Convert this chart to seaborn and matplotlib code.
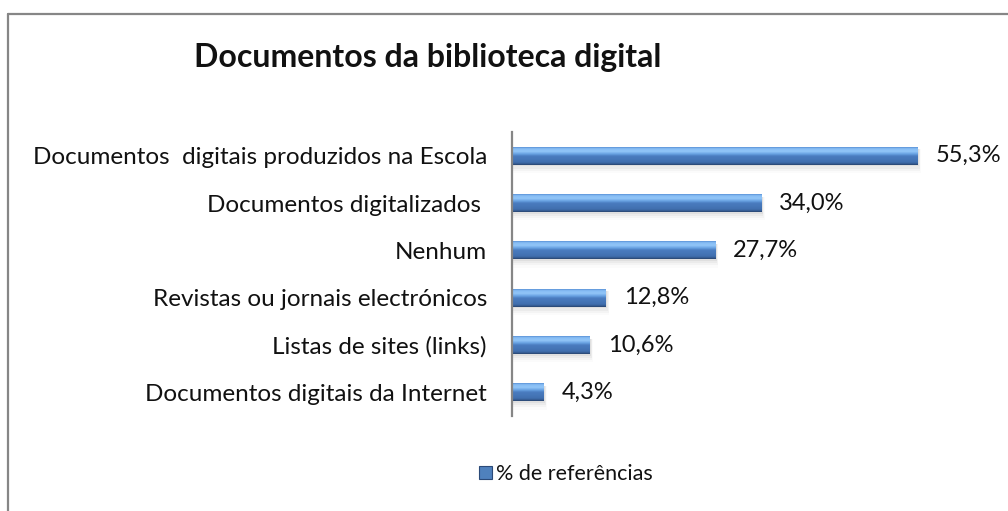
import numpy as np
import matplotlib
matplotlib.use("Agg")
import matplotlib.pyplot as plt
import seaborn as sns
import pandas as pd
from matplotlib.patches import Rectangle
from matplotlib.lines import Line2D
from matplotlib.colors import LinearSegmentedColormap

categories = [
    "Documentos  digitais produzidos na Escola",
    "Documentos digitalizados ",
    "Nenhum",
    "Revistas ou jornais electrónicos",
    "Listas de sites (links)",
    "Documentos digitais da Internet",
]
values = [55.3, 34.0, 27.7, 12.8, 10.6, 4.3]
value_labels = ["55,3%", "34,0%", "27,7%", "12,8%", "10,6%", "4,3%"]
title = "Documentos da biblioteca digital"
series_name = "% de referências"

sns.set_theme(style="white")
plt.rcParams['font.family'] = ['Lato', 'DejaVu Sans']

W, H = 1008, 511
fig = plt.figure(figsize=(W / 100, H / 100), dpi=100)
ax = fig.add_axes([512 / W, 1 - 416 / H, 440 / W, 284 / H])

df = pd.DataFrame({"cat": categories, "val": values})
sns.barplot(data=df, x="val", y="cat", color="#4f81bd", width=0.38,
            saturation=1, ax=ax, zorder=3)

ax.set_xlim(0, 60)
ax.set_ylim(len(categories) - 0.5, -0.5)

cmap = LinearSegmentedColormap.from_list("bevel", [
    (0.0, "#5a92d6"), (0.08, "#86bcf4"), (0.24, "#92c6f8"),
    (0.38, "#68a2e2"), (0.5, "#4a7cc0"), (0.84, "#4170b0"),
    (0.93, "#375e96"), (1.0, "#27446e")])
grad = np.linspace(0, 1, 64).reshape(-1, 1)

for p in list(ax.patches):
    x, y, w, h = p.get_x(), p.get_y(), p.get_width(), p.get_height()
    p.set_edgecolor("none")
    # soft shadow
    for k, a in enumerate([0.10, 0.07, 0.05, 0.03]):
        ax.add_patch(Rectangle((x + 0.1, y + h * 0.15), w + 0.1 + 0.08 * k,
                               h * (0.95 + 0.12 * k), facecolor="#808080",
                               edgecolor="none", alpha=a, zorder=2))
    im = ax.imshow(grad, extent=[x, x + w, y + h, y], cmap=cmap,
                   aspect="auto", zorder=4, interpolation="bilinear")
    im.set_clip_path(p)

ax.set_xlim(0, 60)
ax.set_ylim(len(categories) - 0.5, -0.5)
if ax.get_legend() is not None:
    ax.get_legend().remove()

ax.bar_label(ax.containers[0], labels=value_labels, padding=13,
             fontsize=17, color="#111111")

ax.set_xlabel("")
ax.set_ylabel("")
ax.set_xticks([])
ax.tick_params(axis="y", length=0, pad=18, labelsize=17.5, labelcolor="#111111")
for s in ["top", "right", "bottom"]:
    ax.spines[s].set_visible(False)
ax.spines["left"].set_color("#868686")
ax.spines["left"].set_linewidth(1.6)
ax.spines["left"].set_zorder(5)
ax.set_facecolor("white")

fig.text(428 / W, 1 - 57 / H, title, ha="center", va="center",
         fontsize=23, fontweight="bold", color="#111111")

handle = Rectangle((0, 0), 1, 1, facecolor="#4f81bd", edgecolor="#2b4a78", lw=0.8)
leg = fig.legend([handle], [series_name], loc="center",
                 bbox_to_anchor=(566 / W, 1 - 474 / H), frameon=False,
                 fontsize=15.5, handlelength=0.6, handleheight=0.6,
                 handletextpad=0.2, labelcolor="#111111")

# chart frame (top and left edges visible)
fig.add_artist(Line2D([8 / W, 1.0], [1 - 14 / H, 1 - 14 / H],
                      transform=fig.transFigure, color="#868686", lw=1.6))
fig.add_artist(Line2D([8 / W, 8 / W], [0, 1 - 14 / H],
                      transform=fig.transFigure, color="#868686", lw=1.6))

fig.savefig("out.png", dpi=100, facecolor="white")
